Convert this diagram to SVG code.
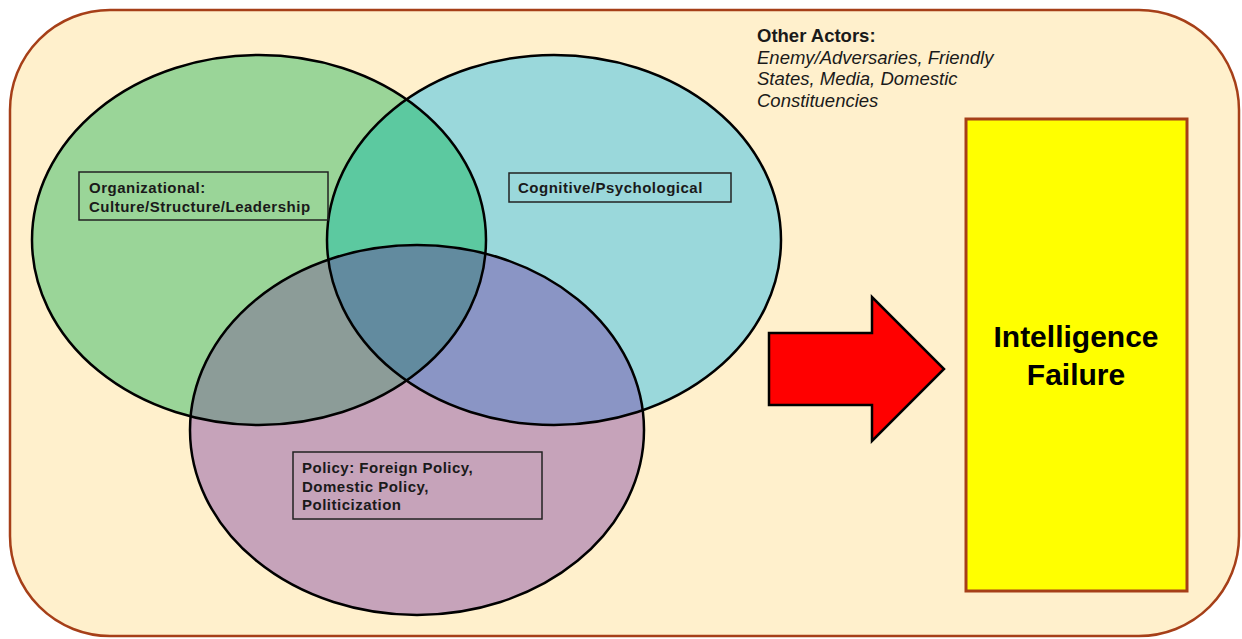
<svg xmlns="http://www.w3.org/2000/svg" width="1242" height="639" viewBox="0 0 1242 639">
<style>
.lbl{font-family:"Liberation Sans",Arial,sans-serif;font-weight:bold;font-size:15px;letter-spacing:0.5px;fill:#1a1a1a}
.box{fill:none;stroke:#222;stroke-width:1.5}
.act{font-family:"Liberation Sans",Arial,sans-serif;font-size:18.5px;fill:#1a1a1a}
.big{font-family:"Liberation Sans",Arial,sans-serif;font-weight:bold;font-size:30px;fill:#000;text-anchor:middle}
.outline{fill:none;stroke:#000;stroke-width:2.5}
</style>
<defs>
<clipPath id="cG"><ellipse cx="259" cy="240" rx="227" ry="185"/></clipPath>
<clipPath id="cC"><ellipse cx="554" cy="240" rx="227" ry="185"/></clipPath>
<clipPath id="cP"><ellipse cx="417" cy="430" rx="227" ry="185"/></clipPath>
</defs>
<rect id="background" x="10" y="10" width="1229" height="626" rx="100" ry="100" fill="#FFF0CC" stroke="#A63F18" stroke-width="2.5"/>
<g id="venn">
<ellipse cx="259" cy="240" rx="227" ry="185" fill="#9AD598"/>
<ellipse cx="554" cy="240" rx="227" ry="185" fill="#9AD8DB"/>
<ellipse cx="417" cy="430" rx="227" ry="185" fill="#C6A3BA"/>
<g clip-path="url(#cG)"><ellipse cx="554" cy="240" rx="227" ry="185" fill="#5CC9A0"/></g>
<g clip-path="url(#cG)"><ellipse cx="417" cy="430" rx="227" ry="185" fill="#8C9C98"/></g>
<g clip-path="url(#cC)"><ellipse cx="417" cy="430" rx="227" ry="185" fill="#8A95C5"/></g>
<g clip-path="url(#cG)"><g clip-path="url(#cC)"><ellipse cx="417" cy="430" rx="227" ry="185" fill="#628B9F"/></g></g>
<ellipse class="outline" cx="259" cy="240" rx="227" ry="185"/>
<ellipse class="outline" cx="554" cy="240" rx="227" ry="185"/>
<ellipse class="outline" cx="417" cy="430" rx="227" ry="185" stroke="#2a1838"/>
</g>
<g id="organizational">
<rect class="box" x="79" y="172" width="249" height="48"/>
<text class="lbl" x="89" y="193">Organizational:</text>
<text class="lbl" x="89" y="212">Culture/Structure/Leadership</text>
</g>
<g id="cognitive">
<rect class="box" x="509" y="173" width="222" height="29"/>
<text class="lbl" x="518" y="193">Cognitive/Psychological</text>
</g>
<g id="policy">
<rect class="box" x="293" y="452" width="249" height="67"/>
<text class="lbl" x="302" y="473">Policy: Foreign Policy,</text>
<text class="lbl" x="302" y="492">Domestic Policy,</text>
<text class="lbl" x="302" y="510">Politicization</text>
</g>
<g id="other-actors">
<text class="act" x="757" y="42" font-weight="bold">Other Actors:</text>
<text class="act" x="757" y="64" font-style="italic">Enemy/Adversaries, Friendly</text>
<text class="act" x="757" y="85" font-style="italic">States, Media, Domestic</text>
<text class="act" x="757" y="107" font-style="italic">Constituencies</text>
</g>
<g id="connectors">
<polygon points="769,333 872,333 872,297 944,369 872,441 872,405 769,405" fill="#FF0000" stroke="#000" stroke-width="2.5" stroke-linejoin="miter"/>
</g>
<g id="intelligence-failure">
<rect x="966" y="119" width="221" height="472" fill="#FFFF00" stroke="#A63F18" stroke-width="3"/>
<text class="big" x="1076" y="347">Intelligence</text>
<text class="big" x="1076" y="385">Failure</text>
</g>
</svg>
